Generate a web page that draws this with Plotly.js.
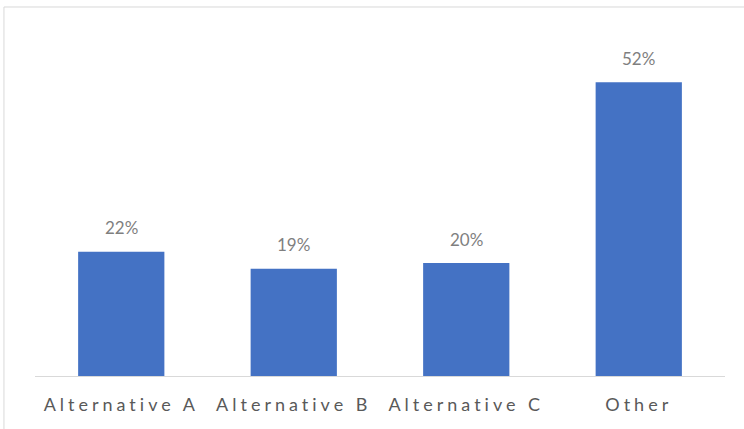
<!DOCTYPE html>
<html>
<head>
<meta charset="utf-8">
<script src="https://cdn.plot.ly/plotly-3.0.1.min.js"></script>
<style>
  html, body { margin: 0; padding: 0; background: #fff; overflow: hidden; }
  #chart { width: 744px; height: 429px; }
  #chart .xtick text { letter-spacing: 4px; }
</style>
</head>
<body>
<div id="chart"></div>
<script>
// Share of responses per option (percent)
const categories = ["Alternative A", "Alternative B", "Alternative C", "Other"];
const shares = [22, 19, 20, 52];

const barColor = "#4472C4";

const trace = {
  type: "bar",
  x: categories,
  y: shares,
  width: 0.5,
  marker: { color: barColor },
  hoverinfo: "skip"
};

// Value labels sit above each bar
const labels = categories.map((c, i) => ({
  x: c,
  y: shares[i],
  xref: "x",
  yref: "y",
  text: shares[i] + "%",
  showarrow: false,
  yshift: 24,
  font: { family: "Lato, 'Open Sans', sans-serif", size: 17, color: "#7f7f7f" }
}));

const layout = {
  width: 744,
  height: 429,
  margin: { l: 35, r: 19, t: 37, b: 53 },
  paper_bgcolor: "#ffffff",
  plot_bgcolor: "#ffffff",
  showlegend: false,
  bargap: 0.5,
  xaxis: {
    showline: true,
    linecolor: "#d9d9d9",
    linewidth: 1,
    ticks: "",
    showgrid: false,
    zeroline: false,
    ticklabelstandoff: 12,
    tickfont: { family: "Lato, 'Open Sans', sans-serif", size: 18, color: "#595959" }
  },
  yaxis: {
    range: [0, 60],
    visible: false,
    showgrid: false,
    zeroline: false
  },
  annotations: labels,
  shapes: [{
    type: "rect",
    xref: "paper",
    yref: "paper",
    x0: -0.045,
    x1: 1.2,
    y0: -0.3,
    y1: 1.0885,
    line: { color: "#d9d9d9", width: 1 },
    fillcolor: "rgba(0,0,0,0)",
    layer: "below"
  }]
};

Plotly.newPlot("chart", [trace], layout, { staticPlot: true, displayModeBar: false });
</script>
</body>
</html>
